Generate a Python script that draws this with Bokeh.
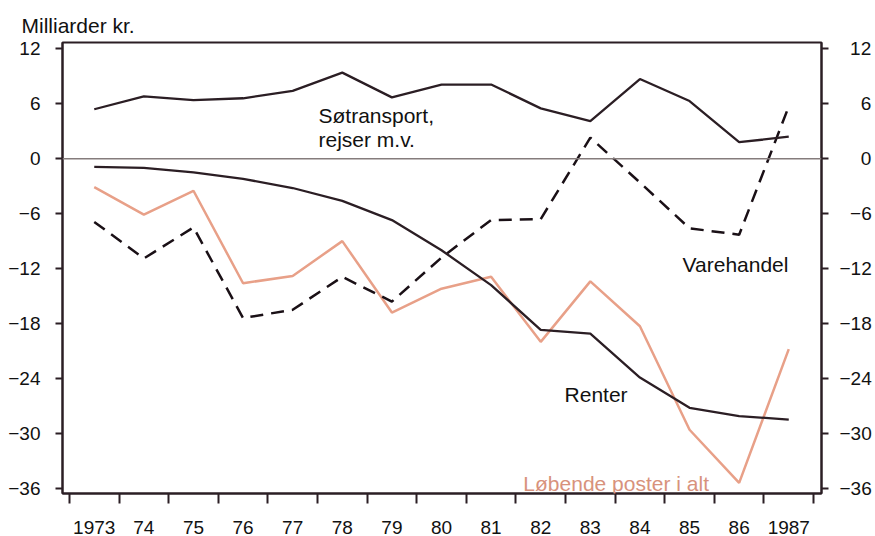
from bokeh.plotting import figure
from bokeh.models import (FixedTicker, LinearAxis, Span, Label, Range1d, Title)
from bokeh.embed import file_html
from bokeh.resources import INLINE

years = list(range(1973, 1988))
year_labels = ["1973", "74", "75", "76", "77", "78", "79", "80", "81", "82",
               "83", "84", "85", "86", "1987"]
y_ticks = [12, 6, 0, -6, -12, -18, -24, -30, -36]

sotransport = [5.4, 6.8, 6.4, 6.6, 7.4, 9.4, 6.7, 8.1, 8.1, 5.5, 4.1, 8.7, 6.3, 1.8, 2.4]
renter = [-0.9, -1.0, -1.5, -2.2, -3.2, -4.6, -6.7, -10.0, -13.8, -18.7, -19.1,
          -23.9, -27.2, -28.1, -28.5]
varehandel = [-6.9, -10.9, -7.5, -17.4, -16.5, -12.9, -15.6, -10.8, -6.7, -6.6,
              2.3, -2.6, -7.6, -8.3, 5.7]
lobende = [-3.1, -6.1, -3.5, -13.6, -12.8, -9.0, -16.8, -14.2, -12.9, -20.0,
           -13.4, -18.3, -29.6, -35.4, -20.8]

FONT = "Liberation Sans"
DARK = "#2b1e24"
SALMON = "#e8a088"

p = figure(width=875, height=536, output_backend="svg", toolbar_location=None,
           x_range=Range1d(1972.36, 1987.66), y_range=Range1d(-36.56, 12.69),
           min_border_left=62, min_border_right=54, min_border_top=42,
           min_border_bottom=40, y_axis_location=None, x_axis_location=None)
p.xgrid.visible = False
p.ygrid.visible = False
p.outline_line_color = DARK
p.outline_line_width = 2
p.background_fill_color = "white"
p.border_fill_color = "white"

p.title = Title(text="Milliarder kr.", align="left", offset=-41,
                text_font=FONT, text_font_size="21px", text_font_style="normal",
                text_color="#111111", standoff=11)

def minus(v):
    return str(v).replace("-", "\u2212")

# bottom axis: tick marks between years (minor ticks), labels at year centres
xa = LinearAxis()
xa.ticker = FixedTicker(ticks=years, minor_ticks=[y - 0.5 for y in years] + [years[-1] + 0.5])
xa.major_label_overrides = {y: l for y, l in zip(years, year_labels)}
xa.major_tick_out = 0
xa.major_tick_in = 0
xa.minor_tick_out = 10
xa.minor_tick_in = 0
xa.minor_tick_line_color = DARK
xa.minor_tick_line_width = 2
xa.axis_line_color = DARK
xa.axis_line_width = 2
xa.major_label_standoff = 17
xa.major_label_text_font = FONT
xa.major_label_text_font_size = "19px"
xa.major_label_text_color = "#111111"
p.add_layout(xa, "below")

# left axis
ya = LinearAxis()
ya.ticker = FixedTicker(ticks=y_ticks, minor_ticks=[])
ya.major_label_overrides = {t: minus(t) for t in y_ticks}
ya.major_tick_out = 7
ya.major_tick_in = 0
ya.major_tick_line_color = DARK
ya.major_tick_line_width = 2
ya.axis_line_color = DARK
ya.axis_line_width = 2
ya.major_label_standoff = 15
ya.major_label_text_font = FONT
ya.major_label_text_font_size = "19px"
ya.major_label_text_color = "#111111"
p.add_layout(ya, "left")

# right axis (labels padded with figure spaces so they read right-aligned)
def pad(t):
    s = minus(t)
    if t >= 0:
        return "\u2007" * (2 if len(s) == 1 else 1) + s
    return ("\u2007" if len(s) == 2 else "") + s

yb = LinearAxis()
yb.ticker = FixedTicker(ticks=y_ticks, minor_ticks=[])
yb.major_label_overrides = {t: pad(t) for t in y_ticks}
yb.major_tick_out = 7
yb.major_tick_in = 0
yb.major_tick_line_color = DARK
yb.major_tick_line_width = 2
yb.axis_line_color = DARK
yb.axis_line_width = 2
yb.major_label_standoff = 11
yb.major_label_text_font = FONT
yb.major_label_text_font_size = "19px"
yb.major_label_text_color = "#111111"
p.add_layout(yb, "right")

p.add_layout(Span(location=0, dimension="width", line_color="#857c7c", line_width=1.6))

p.line(years, lobende, line_color=SALMON, line_width=2.5)
p.line(years, varehandel, line_color="#1a1016", line_width=2.5, line_dash="13 8")
p.line(years, renter, line_color=DARK, line_width=2.3)
p.line(years, sotransport, line_color=DARK, line_width=2.3)

def lab(x, y, t, color="#111111"):
    p.add_layout(Label(x=x, y=y, text=t, text_font=FONT, text_font_size="21px",
                       text_color=color, text_baseline="alphabetic", text_align="left"))

lab(1977.52, 4.75, "Søtransport,")
lab(1977.52, 2.05, "rejser m.v.")
lab(1984.86, -11.56, "Varehandel")
lab(1982.48, -25.72, "Renter")
lab(1981.65, -35.5, "Løbende poster i alt", color="#d8927c")

open("out.html", "w").write(file_html(p, INLINE))
